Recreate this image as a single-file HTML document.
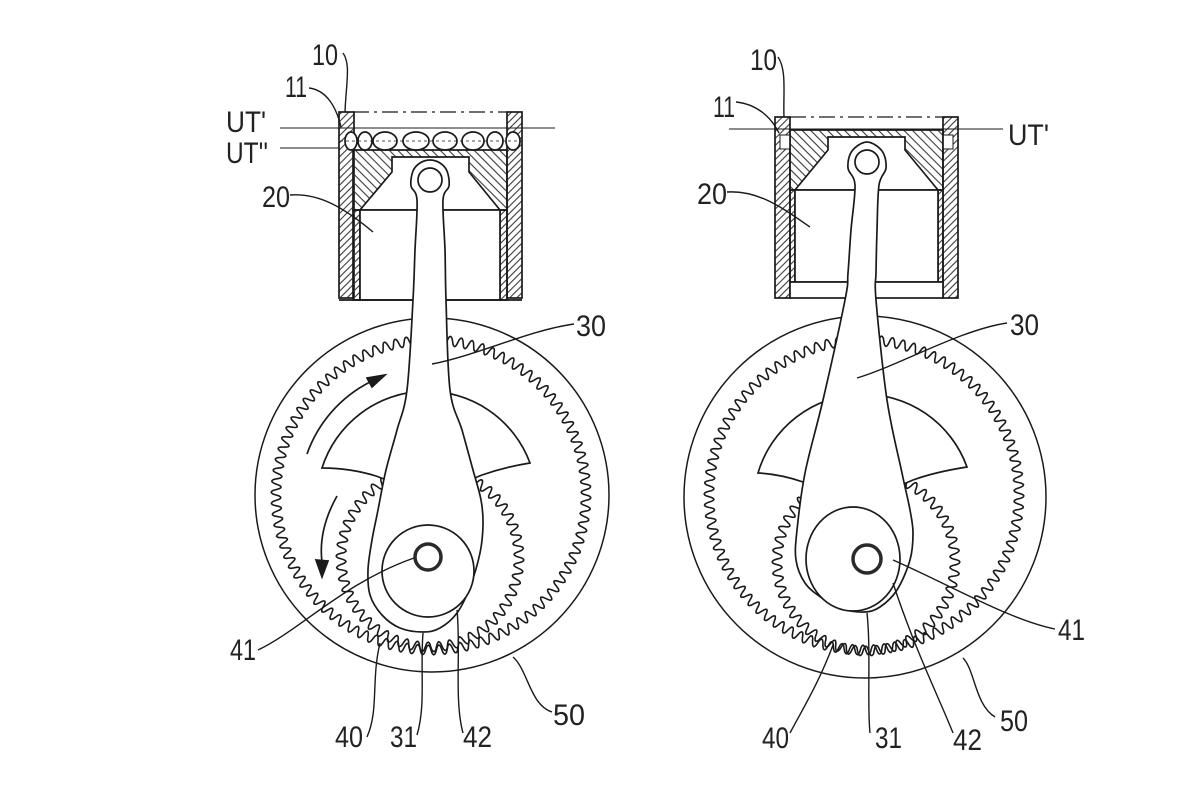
<!DOCTYPE html>
<html><head><meta charset="utf-8">
<style>
html,body{margin:0;padding:0;background:#fff;}
svg{display:block;}
text{font-family:"Liberation Sans",sans-serif;fill:#222;font-size:30px;}
</style></head>
<body>
<svg id="s" width="1200" height="803" viewBox="0 0 1200 803" xmlns="http://www.w3.org/2000/svg">
<defs>
<pattern id="h1" patternUnits="userSpaceOnUse" width="5" height="5" patternTransform="rotate(45)"><line x1="1" y1="0" x2="1" y2="5" stroke="#3a3a3a" stroke-width="1.1"/></pattern>
<pattern id="h2" patternUnits="userSpaceOnUse" width="6" height="6" patternTransform="rotate(-45)"><line x1="1" y1="0" x2="1" y2="6" stroke="#3a3a3a" stroke-width="1.1"/></pattern>
</defs>
<rect width="1200" height="803" fill="#fff"/>

<g fill="none" stroke="#1a1a1a" stroke-width="1.7">
<!-- ===== LEFT FIGURE: cylinder & piston ===== -->
<rect x="339" y="112" width="15" height="186" fill="url(#h1)"/>
<rect x="507" y="112" width="15" height="186" fill="url(#h1)"/>
<path d="M353 150 H507 V210 H353 Z M392 157 H469 V172 L500 210 H360 L392 172 Z" fill="url(#h2)" fill-rule="evenodd"/>
<rect x="353" y="210" width="7" height="90" fill="url(#h1)"/>
<rect x="500" y="210" width="7" height="90" fill="url(#h1)"/>
<rect x="360" y="210" width="140" height="90" fill="#fff"/>
<line x1="339" y1="300" x2="522" y2="300"/>
<g fill="#fff">
<ellipse cx="351" cy="141" rx="6" ry="9"/>
<ellipse cx="365" cy="141" rx="7" ry="9"/>
<ellipse cx="385" cy="141" rx="12" ry="9"/>
<ellipse cx="416" cy="141" rx="13" ry="9"/>
<ellipse cx="445" cy="141" rx="12" ry="9"/>
<ellipse cx="473" cy="141" rx="11" ry="9"/>
<ellipse cx="495" cy="141" rx="8" ry="9"/>
<ellipse cx="513" cy="141" rx="7" ry="9"/>
</g>
<line x1="340" y1="141" x2="522" y2="141" stroke-width="0.8" stroke-dasharray="3 3"/>
<line x1="353" y1="112" x2="507" y2="112" stroke-width="1.3" stroke-dasharray="16 5 3 5"/>
<line x1="280" y1="128" x2="555" y2="128" stroke-width="1"/>
<line x1="280" y1="148" x2="339" y2="148" stroke-width="1"/>

<!-- ===== RIGHT FIGURE: cylinder & piston ===== -->
<rect x="775" y="117" width="15" height="181" fill="url(#h1)"/>
<rect x="943" y="117" width="15" height="181" fill="url(#h1)"/>
<rect x="780" y="135" width="10" height="14" fill="#fff" stroke-width="1"/>
<rect x="943" y="135" width="10" height="14" fill="#fff" stroke-width="1"/>
<path d="M790 130 H943 V190 H790 Z M828 137 H905 V150 L938 190 H795 L828 150 Z" fill="url(#h2)" fill-rule="evenodd"/>
<rect x="790" y="190" width="5" height="92" fill="url(#h1)"/>
<rect x="938" y="190" width="5" height="92" fill="url(#h1)"/>
<rect x="795" y="190" width="143" height="92" fill="#fff"/>
<rect x="790" y="282" width="153" height="16" fill="#fff"/>
<line x1="790" y1="117" x2="943" y2="117" stroke-width="1.3" stroke-dasharray="16 5 3 5"/>
<line x1="729" y1="129" x2="1003" y2="129" stroke-width="1"/>

<!-- ===== LEFT gears ===== -->
<circle cx="432" cy="495" r="177" fill="#fff" stroke-width="1.5"/>
<path id="ringL" stroke-width="1.6"/>
<path id="planL" stroke-width="1.6"/>
<path d="M322 468 A110 110 0 0 1 530 463 Q505 467 482 475 L430 496 L376 476 Q350 468 322 468 Z" fill="#fff"/>
<path id="rodL" fill="#fff"/>
<circle cx="430" cy="180" r="12" fill="#fff"/>
<circle cx="428" cy="571" r="46" fill="#fff"/>
<circle cx="428" cy="557" r="13" fill="#fff" stroke-width="3.5" stroke="#2a2a2a"/>
<!-- arrows -->
<path d="M307 454 A129 129 0 0 1 370 382"/>
<path d="M385 375 L367 378 L372 387 Z" fill="#1a1a1a"/>
<path d="M337 496 Q318 530 322 562"/>
<path d="M322 577 L316 560 L328 561 Z" fill="#1a1a1a"/>

<!-- ===== RIGHT gears ===== -->
<circle cx="865" cy="497" r="181" fill="#fff" stroke-width="1.5"/>
<path id="ringR" stroke-width="1.6"/>
<path id="planR" stroke-width="1.6"/>
<path d="M758 473 A110 110 0 0 1 967 467 Q935 472 913 480 L866 500 L803 482 Q780 474 758 473 Z" fill="#fff"/>
<path id="rodR" fill="#fff"/>
<circle cx="867" cy="162" r="12" fill="#fff"/>
<ellipse cx="853" cy="559" rx="47" ry="52" fill="#fff"/>
<circle cx="867" cy="559" r="14" fill="#fff" stroke-width="3.5" stroke="#2a2a2a"/>

<!-- ===== leaders ===== -->
<g stroke-width="1.4">
<path d="M343 53 C351 64 346 84 345 112"/>
<path d="M309 88 C326 90 336 106 341 127"/>
<path d="M290 195 C318 193 342 206 373 232"/>
<path d="M574 324 C530 330 475 356 432 364"/>
<path d="M258 650 C300 630 345 582 414 558"/>
<path d="M367 737 C379 710 371 680 380 643"/>
<path d="M417 735 C426 705 420 670 423 633"/>
<path d="M463 733 C454 700 461 650 457 610"/>
<path d="M552 712 C530 705 528 670 513 657"/>

<path d="M778 57 C787 70 783 95 784 117"/>
<path d="M736 102 C755 104 770 115 779 133"/>
<path d="M727 192 C760 190 785 210 810 227"/>
<path d="M1007 323 C960 330 900 365 857 378"/>
<path d="M1055 629 C1010 620 950 585 893 560"/>
<path d="M790 733 C805 705 820 680 833 645"/>
<path d="M870 733 C867 705 871 650 867 613"/>
<path d="M953 733 C940 700 915 650 893 583"/>
<path d="M995 717 C975 705 975 670 963 658"/>
</g>
</g>

<!-- labels -->
<text x="312" y="65" textLength="26" lengthAdjust="spacingAndGlyphs">10</text>
<text x="285" y="97" font-size="28" textLength="22" lengthAdjust="spacingAndGlyphs">11</text>
<text x="226" y="132" textLength="40" lengthAdjust="spacingAndGlyphs">UT'</text>
<text x="226" y="163" textLength="42" lengthAdjust="spacingAndGlyphs">UT''</text>
<text x="262" y="207" textLength="28" lengthAdjust="spacingAndGlyphs">20</text>
<text x="576" y="336" textLength="30" lengthAdjust="spacingAndGlyphs">30</text>
<text x="230" y="660" textLength="26" lengthAdjust="spacingAndGlyphs">41</text>
<text x="335" y="747" textLength="28" lengthAdjust="spacingAndGlyphs">40</text>
<text x="390" y="747" textLength="27" lengthAdjust="spacingAndGlyphs">31</text>
<text x="463" y="747" textLength="29" lengthAdjust="spacingAndGlyphs">42</text>
<text x="553" y="725" textLength="32" lengthAdjust="spacingAndGlyphs">50</text>

<text x="750" y="70" textLength="27" lengthAdjust="spacingAndGlyphs">10</text>
<text x="713" y="117" font-size="28" textLength="22" lengthAdjust="spacingAndGlyphs">11</text>
<text x="697" y="204" textLength="30" lengthAdjust="spacingAndGlyphs">20</text>
<text x="1008" y="145" textLength="41" lengthAdjust="spacingAndGlyphs">UT'</text>
<text x="1010" y="335" textLength="29" lengthAdjust="spacingAndGlyphs">30</text>
<text x="1058" y="640" textLength="27" lengthAdjust="spacingAndGlyphs">41</text>
<text x="762" y="748" textLength="27" lengthAdjust="spacingAndGlyphs">40</text>
<text x="875" y="748" textLength="27" lengthAdjust="spacingAndGlyphs">31</text>
<text x="953" y="750" textLength="29" lengthAdjust="spacingAndGlyphs">42</text>
<text x="1000" y="731" textLength="28" lengthAdjust="spacingAndGlyphs">50</text>
</svg>
<script>
function gear(cx,cy,R,A,N,ph){
  var d='',M=N*12;
  for(var i=0;i<=M;i++){
    var t=i/M*Math.PI*2;
    var s=Math.sin(N*t+ph);
    var r=R+A*(Math.sign(s)*Math.pow(Math.abs(s),0.75));
    d+=(i?'L':'M')+(cx+r*Math.cos(t)).toFixed(1)+' '+(cy+r*Math.sin(t)).toFixed(1);
  }
  return d+'Z';
}
function cr(p){
  var n=p.length,d='M'+p[0][0]+' '+p[0][1];
  for(var i=0;i<n;i++){
    var p0=p[(i-1+n)%n],p1=p[i],p2=p[(i+1)%n],p3=p[(i+2)%n];
    var c1x=p1[0]+(p2[0]-p0[0])/6,c1y=p1[1]+(p2[1]-p0[1])/6;
    var c2x=p2[0]-(p3[0]-p1[0])/6,c2y=p2[1]-(p3[1]-p1[1])/6;
    d+='C'+c1x.toFixed(1)+' '+c1y.toFixed(1)+' '+c2x.toFixed(1)+' '+c2y.toFixed(1)+' '+p2[0]+' '+p2[1];
  }
  return d+'Z';
}
document.getElementById('ringL').setAttribute('d',gear(431,495,155,4.8,90,0));
document.getElementById('planL').setAttribute('d',gear(430,558,89,4.8,50,0.5));
document.getElementById('ringR').setAttribute('d',gear(864,495,155,4.8,90,1));
document.getElementById('planR').setAttribute('d',gear(866,562,89,4.8,50,1.5));
var rodL=[[411,186],[413,171],[420,163],[430,160],[440,163],[447,171],[449,186],[443,200],[445,250],[446,300],[450,390],[462,430],[473,470],[481,500],[483,525],[480,553],[470,587],[457,613],[440,628],[423,632],[400,628],[382,615],[370,595],[368,570],[372,540],[378,510],[386,470],[397,430],[407,390],[413,300],[415,250],[417,200]];
var rodR=[[848,168],[852,151],[867,142],[882,151],[886,168],[879,185],[877,230],[876,273],[876,300],[887,400],[902,473],[910,510],[913,533],[910,560],[897,590],[880,607],[864,612],[843,609],[822,598],[805,583],[796,560],[797,530],[805,473],[823,400],[845,300],[848,273],[851,230],[855,185]];
document.getElementById('rodL').setAttribute('d',cr(rodL));
document.getElementById('rodR').setAttribute('d',cr(rodR));
</script>
</body></html>
